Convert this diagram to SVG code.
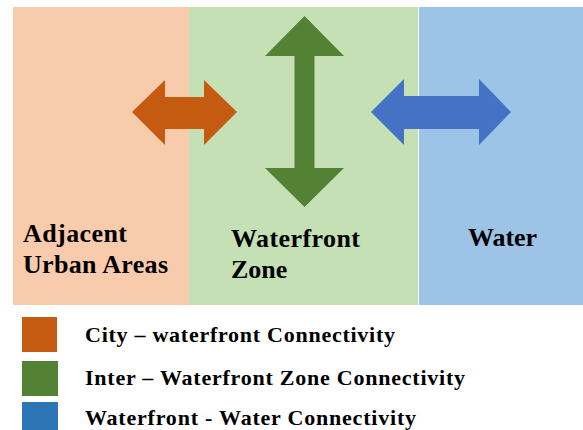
<svg xmlns="http://www.w3.org/2000/svg" width="583" height="430" viewBox="0 0 583 430" font-family="Liberation Serif" font-weight="bold">
  <rect width="583" height="430" fill="#ffffff"/>

  <!-- zones -->
  <g id="zone-urban" font-size="26">
    <rect x="13" y="7" width="176" height="298" fill="#F8CBAD"/>
    <text x="23" y="242" textLength="104" lengthAdjust="spacing">Adjacent</text>
    <text x="23" y="273" textLength="145" lengthAdjust="spacing">Urban Areas</text>
  </g>
  <g id="zone-waterfront" font-size="26">
    <rect x="189" y="7" width="229" height="298" fill="#C5E0B4"/>
    <text x="231" y="247" textLength="129" lengthAdjust="spacing">Waterfront</text>
    <text x="231" y="278">Zone</text>
  </g>
  <g id="zone-water" font-size="26">
    <rect x="419" y="7" width="164" height="298" fill="#9DC3E6"/>
    <text x="468" y="246" textLength="69" lengthAdjust="spacing">Water</text>
  </g>

  <!-- connectors -->
  <g id="connectors">
    <polygon fill="#C55A11" points="132,112 165,80 165,97 204,97 204,80 237,112 204,145 204,129 165,129 165,145"/>
    <polygon fill="#548235" points="304.5,16 344,56 314.5,56 314.5,168 344,168 304.5,207 265,168 294.5,168 294.5,56 265,56"/>
    <polygon fill="#4472C4" points="371,112 404,79 404,96 479,96 479,79 511,112 479,145 479,129 404,129 404,145"/>
  </g>

  <!-- legend -->
  <g id="legend-city" font-size="22">
    <rect x="22" y="317" width="35" height="35" fill="#C55A11"/>
    <text x="85" y="342" textLength="310" lengthAdjust="spacing">City – waterfront Connectivity</text>
  </g>
  <g id="legend-inter" font-size="22">
    <rect x="22" y="361" width="36" height="35" fill="#548235"/>
    <text x="85" y="385" textLength="380" lengthAdjust="spacing">Inter – Waterfront Zone Connectivity</text>
  </g>
  <g id="legend-water" font-size="22">
    <rect x="22" y="402" width="36" height="35" fill="#2E75B6"/>
    <text x="85" y="425" textLength="331" lengthAdjust="spacing">Waterfront - Water Connectivity</text>
  </g>
</svg>
